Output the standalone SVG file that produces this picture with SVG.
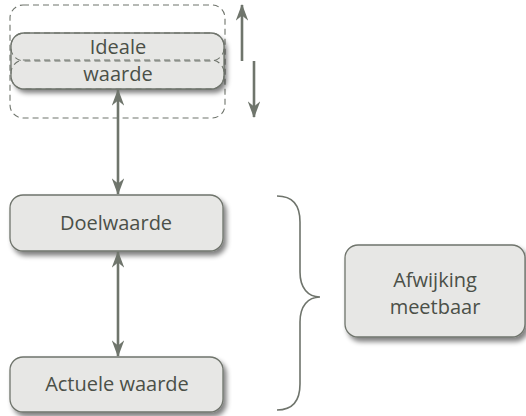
<svg xmlns="http://www.w3.org/2000/svg" width="526" height="416" viewBox="0 0 526 416">
  <defs>
    <filter id="shadow" x="-10%" y="-20%" width="130%" height="160%">
      <feGaussianBlur in="SourceAlpha" stdDeviation="2.5"/>
      <feOffset dx="3" dy="4" result="b"/>
      <feComponentTransfer><feFuncA type="linear" slope="0.5"/></feComponentTransfer>
      <feMerge><feMergeNode/><feMergeNode in="SourceGraphic"/></feMerge>
    </filter>
    <marker id="head" viewBox="0 0 16 12" refX="15" refY="6" markerWidth="6.4" markerHeight="4.8" orient="auto-start-reverse" markerUnits="strokeWidth">
      <path d="M0,0 L16,6 L0,12 L5,6 Z" fill="#6f756c"/>
    </marker>
  </defs>
  <style>
    .box { fill: #e7e7e5; stroke: #6f746c; stroke-width: 1.3; }
    .dash { fill: none; stroke: #6f746c; stroke-width: 1.1; stroke-dasharray: 6 4; }
    .label { font-family: "Open Sans", "DejaVu Sans", sans-serif; font-size: 20px; fill: #4b5048; text-anchor: middle; }
    .conn { fill: none; stroke: #6f756c; stroke-width: 2.6; }
    .brace { fill: none; stroke: #6f746c; stroke-width: 1.6; }
  </style>

  <!-- ideal value with its margin -->
  <g id="ideale-waarde">
    <rect class="dash" x="10" y="5" width="215" height="113" rx="13"/>
    <g filter="url(#shadow)">
      <rect x="11" y="33" width="213" height="56" rx="13" fill="#e7e7e5"/>
    </g>
    <rect class="dash" x="11" y="33" width="213" height="28" rx="13"/>
    <rect class="dash" x="11" y="60" width="213" height="29" rx="13"/>
    <rect x="11" y="33" width="213" height="56" rx="13" fill="none" stroke="#6f746c" stroke-width="1.3"/>
    <text class="label" x="118" y="54">Ideale</text>
    <text class="label" x="118" y="81">waarde</text>
  </g>

  <g id="doelwaarde">
    <rect class="box" filter="url(#shadow)" x="10" y="195" width="213" height="56" rx="13"/>
    <text class="label" x="116" y="230">Doelwaarde</text>
  </g>

  <g id="actuele-waarde">
    <rect class="box" filter="url(#shadow)" x="10" y="357" width="213" height="55" rx="13"/>
    <text class="label" x="117" y="391">Actuele waarde</text>
  </g>

  <g id="afwijking">
    <rect class="box" filter="url(#shadow)" x="345" y="245" width="180" height="92" rx="13"/>
    <text class="label" x="435" y="287">Afwijking</text>
    <text class="label" x="435" y="314">meetbaar</text>
  </g>

  <g id="connectors">
    <line class="conn" x1="118" y1="90" x2="118" y2="194" marker-start="url(#head)" marker-end="url(#head)"/>
    <line class="conn" x1="118" y1="252" x2="118" y2="356" marker-start="url(#head)" marker-end="url(#head)"/>
    <line class="conn" x1="242" y1="61" x2="242" y2="5" marker-end="url(#head)"/>
    <line class="conn" x1="254" y1="61" x2="254" y2="117" marker-end="url(#head)"/>
    <path class="brace" d="M277,196 C292,196 300,204 300,222 L300,272 C300,288 308,297 320,297 C308,297 300,306 300,322 L300,384 C300,402 292,410 277,410"/>
  </g>
</svg>
